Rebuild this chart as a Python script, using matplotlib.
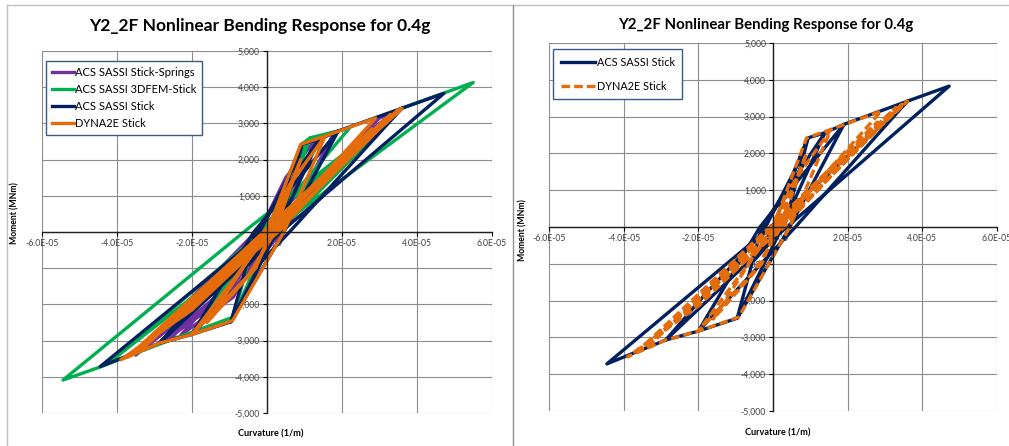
import numpy as np
import matplotlib.pyplot as plt
from matplotlib.lines import Line2D
from matplotlib.ticker import FuncFormatter, MultipleLocator

# hysteresis paths (curvature in 1E-05 1/m, moment in MNm)
springs_x = [0.0, 0.92, 1.3, 0.3, -0.95, -0.3, 0.5, 1.3, 1.8, 0.4, -1.0, -2.0, -2.6, -1.0, 0.2,
             3.0, 3.3, 0.2, -1.2, -3.5, -0.3, 3.0, 1.0, -0.8, -2.7, -1.2, -0.2, -2.3, -0.9, 0.1]
springs_y = [0, 2420, 2560, 100, -2460, -200, 1500, 2560, 2760, 0, -1700, -2830, -2950, -1500, 200,
             3150, 3300, 0, -1500, -3400, 0, 3000, 1000, -1300, -2950, -1900, -400, -2850, -1800, 0]

fem_x = [0.0, 0.92, 1.15, 0.3, -0.95, -0.35, 1.15, 2.2, 0.88, 0.0, -2.0, -0.5, 0.53, 3.6, 5.5,
         0.1, -0.9, -2.87, -4.45, -5.44, -0.45, 3.55, 0.6, -4.2, -0.3, 0.3]
fem_y = [0, 2420, 2600, 200, -2450, -300, 2600, 2870, 1250, 200, -2830, -500, 800, 3420, 4130,
         0, -2350, -3100, -3730, -4090, 140, 3370, 300, -3600, -150, 300]

stick_x = [0.0, 0.93, 1.39, 0.25, -0.96, -0.3, 1.39, 1.9, 0.45, -0.96, -2.0, -0.35, 1.9, 3.6, 0.6,
           -2.0, -2.87, -1.88, -0.6, 3.6, 4.72, 0.37, -0.8, -2.87, -4.45, -0.3, 0.54, 0.94,
           0.3, -0.5, 0.2]
stick_y = [0, 2420, 2560, 0, -2480, 0, 2560, 2790, 0, -2480, -2830, 0, 2790, 3420, 0,
           -2830, -3070, -1900, -500, 3420, 3830, 0, -1080, -3070, -3720, -200, 1460, 2410,
           0, -900, 300]

dyna_x = [0.0, 0.9, 1.55, 0.45, -0.92, -2.0, -0.3, 0.6, 1.55, 2.9, 0.4, -0.5, -2.0, -2.87, -3.9,
          -2.0, 0.0, 1.0, 3.6, 2.0, 0.3, -3.6, -1.9, 0.3, 3.3, 1.8, -0.2, -1.6, -0.3, 0.9, 0.2,
          3.5, 0.6, -3.7, -0.4, 3.2, -3.4, 2.8, -0.2]
dyna_y = [0, 2420, 2650, 0, -2450, -2830, -500, 1300, 2650, 3150, 300, -1200, -2830, -3070, -3530,
          -2150, -200, 1000, 3420, 1900, 0, -3350, -1950, 300, 3250, 1800, -300, -2500, -1000, 2000, 0,
          3380, 400, -3450, -300, 3150, -3300, 2850, -200]

title = "Y2_2F Nonlinear Bending Response for 0.4g"
purple, green, navy, orange = "#7030A0", "#00B050", "#002060", "#E46C0A"

plt.rcParams['font.family'] = ['Lato', 'DejaVu Sans']

fig = plt.figure(figsize=(10.09, 4.46), dpi=100)
ax1 = fig.add_axes([0.0416, 0.074, 0.446, 0.8117])
ax2 = fig.add_axes([0.5441, 0.0785, 0.444, 0.825])


def setup(ax):
    ax.set_xlim(-6e-5, 6e-5)
    ax.set_ylim(-5000, 5000)
    ax.xaxis.set_major_locator(MultipleLocator(2e-5))
    ax.yaxis.set_major_locator(MultipleLocator(1000))
    ax.xaxis.set_major_formatter(FuncFormatter(lambda v, p: "%.1E" % v))
    ax.yaxis.set_major_formatter(FuncFormatter(lambda v, p: "{:,.0f}".format(v)))
    ax.grid(True, color="#8C8C8C", lw=0.8)
    ax.set_axisbelow(True)
    for s in ["top", "right"]:
        ax.spines[s].set_visible(False)
    ax.spines["left"].set_position("zero")
    ax.spines["bottom"].set_position("zero")
    for s in ["left", "bottom"]:
        ax.spines[s].set_color("#202020")
        ax.spines[s].set_linewidth(1.0)
        ax.spines[s].set_zorder(2.5)
    ax.tick_params(length=3, width=0.8, labelsize=6.2, labelcolor="#404040", pad=2)


def scaled(xs):
    return np.array(xs) * 1e-5


setup(ax1)
ax1.plot(scaled(springs_x), springs_y, color=purple, lw=2.4, label="ACS SASSI Stick-Springs")
ax1.plot(scaled(fem_x), fem_y, color=green, lw=2.4, label="ACS SASSI 3DFEM-Stick")
ax1.plot(scaled(stick_x), stick_y, color=navy, lw=2.4, label="ACS SASSI Stick")
ax1.plot(scaled(dyna_x), dyna_y, color=orange, lw=2.4, label="DYNA2E Stick")
leg1 = ax1.legend(loc="upper left", bbox_to_anchor=(0.009, 0.972), borderaxespad=0, fontsize=8,
                  fancybox=False, framealpha=1, edgecolor="#3B5A8C", handlelength=2.0,
                  handletextpad=0.15, labelspacing=0.55, borderpad=0.5)
leg1.get_frame().set_linewidth(1.0)

setup(ax2)
ax2.plot(scaled(stick_x), stick_y, color=navy, lw=2.4, label="ACS SASSI Stick")
ax2.plot(scaled(dyna_x), dyna_y, color=orange, lw=2.4, ls=(0, (2.6, 1.2)), label="DYNA2E Stick")
leg2 = ax2.legend(loc="upper left", bbox_to_anchor=(0.009, 0.984), borderaxespad=0, fontsize=7.8,
                  fancybox=False, framealpha=1, edgecolor="#3B5A8C", handlelength=3.2,
                  handletextpad=0.15, labelspacing=1.2, borderpad=0.7)
leg2.get_frame().set_linewidth(1.0)

# titles and axis labels
fig.text(0.257, 0.942, title, ha="center", va="center", fontsize=12.5, fontweight="bold")
fig.text(0.759, 0.944, title, ha="center", va="center", fontsize=10.8, fontweight="bold")
fig.text(0.015, 0.522, "Moment (MNm)", rotation=90, ha="center", va="center", fontsize=6.2,
         fontweight="bold")
fig.text(0.518, 0.484, "Moment (MNm)", rotation=90, ha="center", va="center", fontsize=6.2,
         fontweight="bold")
fig.text(0.268, 0.027, "Curvature (1/m)", ha="center", va="center", fontsize=6.6, fontweight="bold")
fig.text(0.771, 0.029, "Curvature (1/m)", ha="center", va="center", fontsize=6.6, fontweight="bold")

# chart frames
frame = "#BFBFBF"
fig.add_artist(Line2D([0.0069, 1.0], [0.989, 0.989], transform=fig.transFigure, color=frame, lw=1))
fig.add_artist(Line2D([0.0069, 0.0069], [0.0, 0.989], transform=fig.transFigure, color=frame, lw=1))
fig.add_artist(Line2D([0.5084, 0.5084], [0.0, 0.989], transform=fig.transFigure, color="#909090", lw=1))

fig.savefig("out.png", dpi=100)
